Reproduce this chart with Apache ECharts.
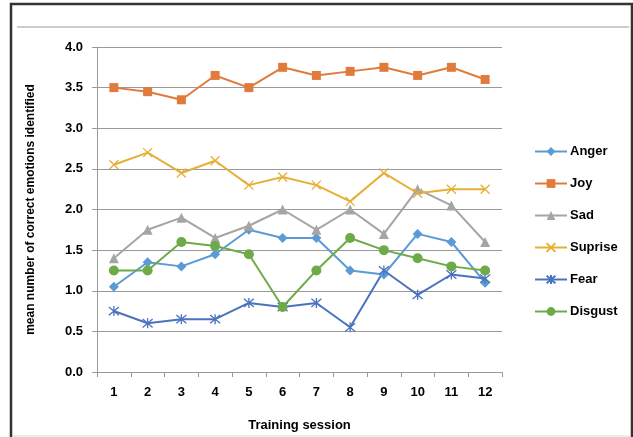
<!DOCTYPE html>
<html>
<head>
<meta charset="utf-8">
<script src="https://cdn.jsdelivr.net/npm/echarts@6/dist/echarts.min.js"></script>
<style>
  html, body { margin: 0; padding: 0; background: #fff; }
  #chart { width: 633px; height: 437px; }
</style>
</head>
<body>
<div id="chart"></div>
<script>
// Training sessions on the x axis
const sessions = ['1', '2', '3', '4', '5', '6', '7', '8', '9', '10', '11', '12'];

// Mean number of correct emotions identified per session
const anger   = [1.05, 1.35, 1.30, 1.45, 1.75, 1.65, 1.65, 1.25, 1.20, 1.70, 1.60, 1.10];
const joy     = [3.50, 3.45, 3.35, 3.65, 3.50, 3.75, 3.65, 3.70, 3.75, 3.65, 3.75, 3.60];
const sad     = [1.40, 1.75, 1.90, 1.65, 1.80, 2.00, 1.75, 2.00, 1.70, 2.25, 2.05, 1.60];
const suprise = [2.55, 2.70, 2.45, 2.60, 2.30, 2.40, 2.30, 2.10, 2.45, 2.20, 2.25, 2.25];
const fear    = [0.75, 0.60, 0.65, 0.65, 0.85, 0.80, 0.85, 0.55, 1.25, 0.95, 1.20, 1.15];
const disgust = [1.25, 1.25, 1.60, 1.55, 1.45, 0.80, 1.25, 1.65, 1.50, 1.40, 1.30, 1.25];

const FONT = 'Liberation Sans';
const crossPath = 'path://M0,0L10,10M10,0L0,10';
const starPath = 'path://M0,0L10,10M10,0L0,10M5,-1L5,11';

function filled(name, data, color, symbol, size) {
  return {
    name, type: 'line', data,
    symbol, symbolSize: size,
    lineStyle: { color, width: 2 },
    itemStyle: { color, borderWidth: 0 },
    emphasis: { disabled: true }
  };
}
function stroked(name, data, color, symbol, size) {
  return {
    name, type: 'line', data,
    symbol, symbolSize: size,
    lineStyle: { color, width: 2 },
    itemStyle: { color: 'rgba(0,0,0,0)', borderColor: color, borderWidth: 1.3 },
    emphasis: { disabled: true }
  };
}

const chart = echarts.init(document.getElementById('chart'), null, { renderer: 'canvas' });
chart.setOption({
  animation: false,
  backgroundColor: '#fff',
  textStyle: { fontFamily: FONT },
  grid: { left: 97, right: 131, top: 47, bottom: 61 },
  graphic: [
    { type: 'rect', shape: { x: 11, y: 4, width: 621, height: 445 },
      style: { fill: 'none', stroke: '#333', lineWidth: 2.5 }, silent: true },
    { type: 'line', shape: { x1: 17, y1: 27, x2: 629, y2: 27 },
      style: { stroke: '#9a9a9a', lineWidth: 1 }, silent: true },
    { type: 'line', shape: { x1: 12, y1: 436, x2: 631, y2: 436 },
      style: { stroke: '#d8d8d8', lineWidth: 1 }, silent: true }
  ],
  legend: {
    orient: 'vertical',
    left: 529,
    top: 140,
    itemWidth: 32,
    itemHeight: 11,
    itemGap: 19,
    textStyle: { fontFamily: FONT, fontWeight: 'bold', fontSize: 13, color: '#000', padding: [0, 0, 0, -2] },
    data: ['Anger', 'Joy', 'Sad', 'Suprise', 'Fear', 'Disgust']
  },
  xAxis: {
    type: 'category',
    data: sessions,
    boundaryGap: true,
    name: 'Training session',
    nameLocation: 'middle',
    nameGap: 47,
    nameTextStyle: { fontFamily: FONT, fontWeight: 'bold', fontSize: 13, color: '#000' },
    axisLine: { lineStyle: { color: '#999', width: 1 } },
    axisTick: { show: true, length: 5, lineStyle: { color: '#999' } },
    axisLabel: { fontFamily: FONT, fontWeight: 'bold', fontSize: 13, color: '#000', margin: 14 }
  },
  yAxis: {
    type: 'value',
    min: 0, max: 4, interval: 0.5,
    name: 'mean number of correct emotions identified',
    nameLocation: 'middle',
    nameGap: 60,
    nameTextStyle: { fontFamily: FONT, fontWeight: 'bold', fontSize: 12, color: '#000' },
    axisLine: { show: true, lineStyle: { color: '#999', width: 1 } },
    axisTick: { show: true, length: 5, lineStyle: { color: '#999' } },
    splitLine: { lineStyle: { color: '#9a9a9a', width: 1 } },
    axisLabel: {
      fontFamily: FONT, fontWeight: 'bold', fontSize: 13, color: '#000', margin: 14,
      formatter: v => v.toFixed(1)
    }
  },
  series: [
    filled('Anger', anger, '#5B9BD5', 'diamond', 10),
    filled('Joy', joy, '#E07B3C', 'rect', 9),
    filled('Sad', sad, '#A5A5A5', 'triangle', 10),
    stroked('Suprise', suprise, '#E6B035', crossPath, 9),
    stroked('Fear', fear, '#4A72BE', starPath, 10),
    filled('Disgust', disgust, '#6FAA48', 'circle', 10)
  ]
});
</script>
</body>
</html>
